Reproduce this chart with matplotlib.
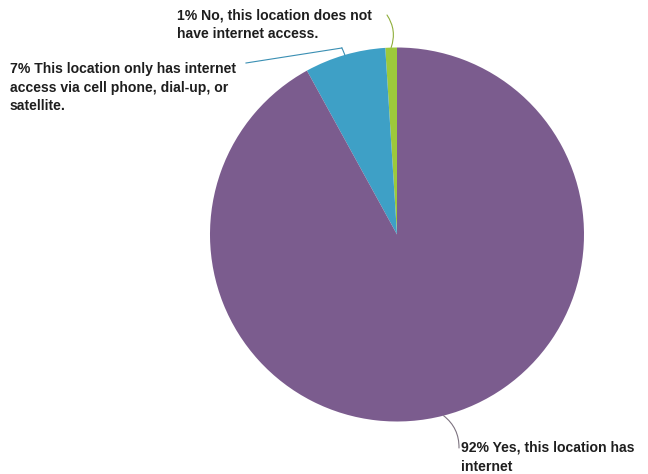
import numpy as np
import matplotlib
matplotlib.use("Agg")
import matplotlib.pyplot as plt

# Share of locations by internet access
categories = [
    "No, this location does not\nhave internet access.",
    "This location only has internet\naccess via cell phone, dial-up, or\nsatellite.",
    "Yes, this location has\ninternet",
]
shares = [1, 7, 92]
colors = ["#9dc93b", "#3ea0c6", "#7b5c8e"]
leader_colors = ["#8fae3a", "#3a8fb3", "#7d7380"]

W, H = 648, 474
fig = plt.figure(figsize=(W / 100, H / 100), dpi=100)
ax = fig.add_axes([0, 0, 1, 1])

cx, cy, r = 397, 239.5, 187
wedges, _ = ax.pie(shares, colors=colors, startangle=90, counterclock=True,
                   center=(cx, cy), radius=r, frame=True,
                   wedgeprops=dict(linewidth=0))
ax.set_xlim(0, W)
ax.set_ylim(0, H)
ax.set_aspect("equal")
ax.axis("off")

font = dict(family=["Liberation Sans", "DejaVu Sans"], fontweight="bold",
            fontsize=10.1, color="#1e1e1e", linespacing=1.42)

# label anchor (left, top) and leader end for each slice
text_pos = [(177, H - 8), (10, H - 62), (461, H - 441)]
leader_end = [(387, H - 15), (246, H - 63), (459, H - 448)]
leader_rad = [-0.25, 0.0, 0.25]

for w, cat, s, tp, le, rad, lc in zip(wedges, categories, shares, text_pos,
                                      leader_end, leader_rad, leader_colors):
    ang = np.deg2rad((w.theta1 + w.theta2) / 2)
    px, py = cx + r * np.cos(ang), cy + r * np.sin(ang)
    ax.text(tp[0], tp[1], f"{s}% {cat}", ha="left", va="top", **font)
    if s == 7:
        # elbow leader: up from the slice, then across to the label
        bx, by = px - 3, H - 48
        ax.plot([px, bx + 1, bx], [py, by - 2, by], color=lc, lw=0.8)
        ax.plot([bx, le[0]], [by, le[1]], color=lc, lw=0.8)
    else:
        ax.annotate("", xy=(px, py), xytext=le,
                    arrowprops=dict(arrowstyle="-", color=lc, lw=0.8,
                                    shrinkA=0, shrinkB=0,
                                    connectionstyle=f"arc3,rad={rad}"))

fig.savefig("out.png", dpi=100, facecolor="white")
